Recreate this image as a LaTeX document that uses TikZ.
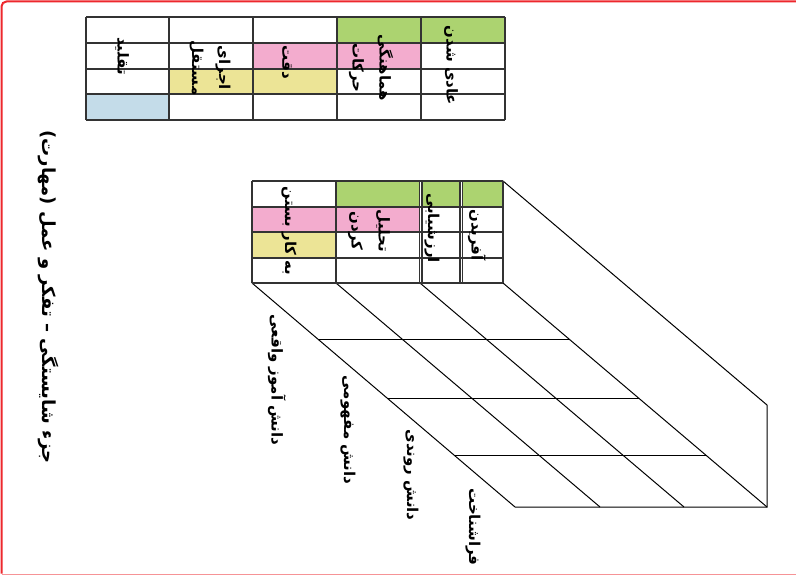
\documentclass[tikz,border=0pt]{standalone}
\usepackage{fontspec}
\newfontfamily\farsi[Script=Arabic]{DejaVu Sans}
\TeXXeTstate=1
\usetikzlibrary{calc}
\definecolor{cellgreen}{RGB}{172,211,112}
\definecolor{cellpink}{RGB}{243,172,206}
\definecolor{cellyellow}{RGB}{236,228,150}
\definecolor{cellblue}{RGB}{196,220,233}
\definecolor{framered}{RGB}{237,40,45}
\newcommand{\fa}[1]{\beginR #1\endR}
\begin{document}
\begin{tikzpicture}[x=1pt,y=-1pt,
    word/.style={rotate=-90, inner sep=0pt, align=center,
      font=\farsi\bfseries\fontsize{15}{27}\selectfont},
    gridline/.style={line width=1.6pt, draw=black!80},
    cubeline/.style={line width=1pt}]
  \useasboundingbox (0,0) rectangle (796,575);
  % frame
  \draw[framered, line width=2pt, rounded corners=5pt] (1.5,573.5) |- (796,1.5);
  \draw[framered!50, line width=0.8pt] (1.5,574) -- (796,574);
  % top table
  \foreach \xa/\ya/\xb/\yb/\col in {421/17/505/43/cellgreen, 337/17/421/43/cellgreen,
      337/43/421/69/cellpink, 253/43/337/69/cellpink, 253/69/337/94/cellyellow,
      169/69/253/94/cellyellow, 86/94/169/120/cellblue}
    \fill[\col] (\xa,\ya) rectangle (\xb,\yb);
  \foreach \x in {86,169,253,337,421,505}
    \draw[gridline] (\x,17) -- (\x,120);
  \foreach \y in {17,43,69,94,120}
    \draw[gridline] (86,\y) -- (505,\y);
  \node[word] (adi) at (451,65) {\fa{عادی شدن}};
  \node[word] (hamahangi) at (371,68) {\fa{هماهنگی}\\\fa{حرکات}};
  \node[word] (deghat) at (287,62) {\fa{دقت}};
  \node[word] (ejra) at (210,68) {\fa{اجرای}\\\fa{مستقل}};
  \node[word] (taghlid) at (122,56) {\fa{تقلید}};
  % cube
  \coordinate (f1) at (252,283);
  \coordinate (f2) at (336,283);
  \coordinate (f3) at (420,283);
  \coordinate (f4) at (503,283);
  \coordinate (ftop) at (503,181);
  \coordinate (b1) at (515,507);
  \coordinate (b2) at (600,507);
  \coordinate (b3) at (684,507);
  \coordinate (b4) at (767,507);
  \coordinate (btop) at (767,405);
  \foreach \i in {1,...,4}
    \draw[cubeline] (f\i) -- (b\i);
  \draw[cubeline] (ftop) -- (btop) -- (b4) -- (b1);
  \foreach \t in {0.25,0.515,0.77}
    \draw[cubeline] ($(f1)!\t!(b1)$) -- ($(f4)!\t!(b4)$);
  % front table
  \foreach \xa/\ya/\xb/\yb/\col in {252/207/336/232/cellpink, 252/232/336/258/cellyellow,
      336/181/420/207/cellgreen, 336/207/420/232/cellpink,
      422/181/460/207/cellgreen, 462.5/181/503/207/cellgreen}
    \fill[\col] (\xa,\ya) rectangle (\xb,\yb);
  \foreach \x in {252,336,419.5,422,460,462.5,503}
    \draw[gridline, line width=1.3pt] (\x,181) -- (\x,283);
  \foreach \y in {181,207,232,258,283}
    \draw[gridline, line width=1.3pt] (252,\y) -- (503,\y);
  \node[word] (bekar) at (289,231) {\fa{به کار بستن}};
  \node[word] (tahlil) at (369,231) {\fa{تحلیل}\\\fa{کردن}};
  \node[word] (arzeshyabi) at (432,228) {\fa{ارزشیابی}};
  \node[word] (afaridan) at (477,235) {\fa{آفریدن}};
  % knowledge labels
  \node[word] (vaghei) at (277,380) {\fa{دانش آموز واقعی}};
  \node[word] (mafhoomi) at (348,430) {\fa{دانش مفهومی}};
  \node[word] (ravandi) at (411,475) {\fa{دانش روندی}};
  \node[word] (farashenakht) at (473,527) {\fa{فراشناخت}};
  % title
  \node[word, font=\farsi\bfseries\fontsize{18}{20}\selectfont] (onvan) at (48,297)
    {\fa{جزء شایستگی – تفکر و عمل (مهارت)}};
\end{tikzpicture}
\end{document}
